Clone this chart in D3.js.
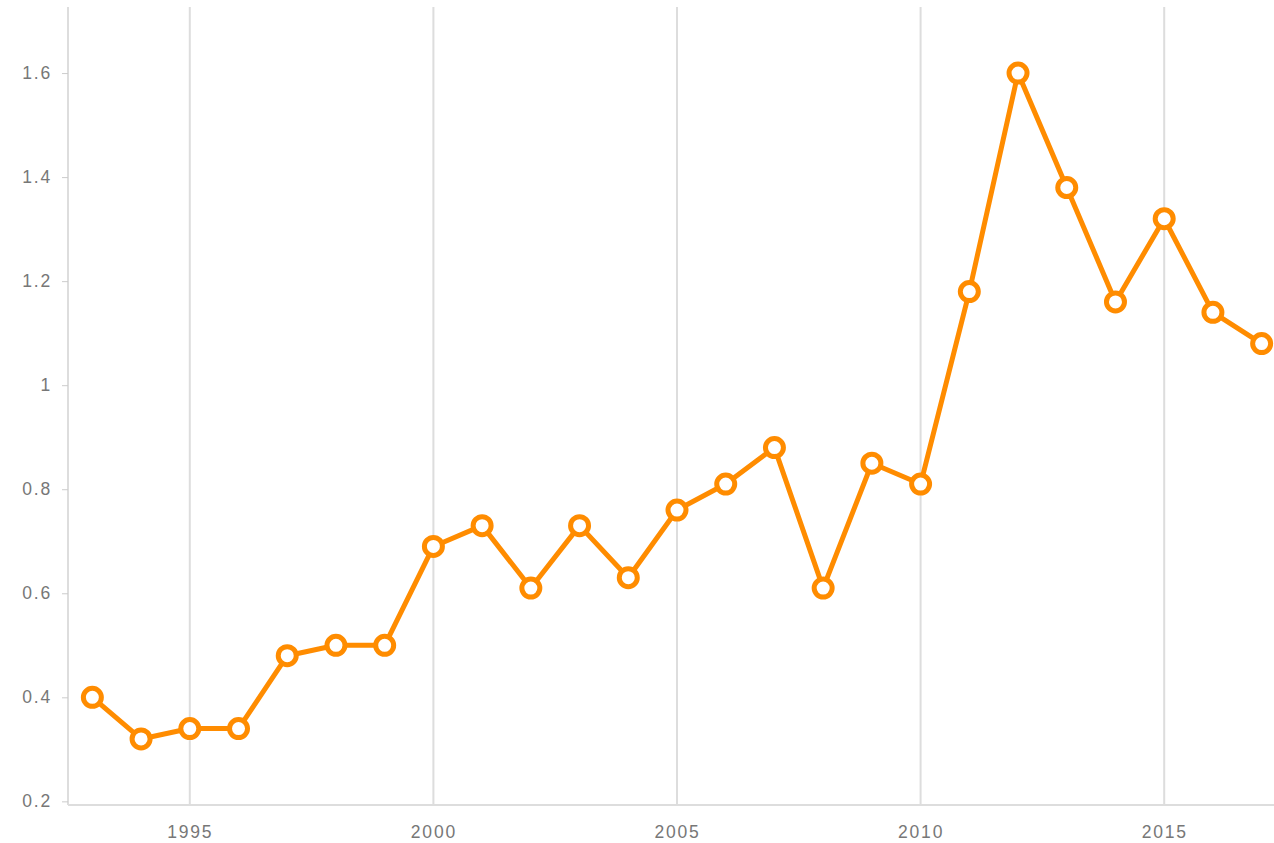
<!DOCTYPE html>
<html>
<head>
<meta charset="utf-8">
<script src="https://cdn.jsdelivr.net/npm/d3@7"></script>
<style>
  body { margin: 0; background: #fff; overflow: hidden; }
  svg { display: block; font-family: "Liberation Sans", Arial, sans-serif; }
</style>
</head>
<body>
<div id="chart"></div>
<script>
// values
const years = [1993, 1994, 1995, 1996, 1997, 1998, 1999, 2000, 2001, 2002, 2003, 2004, 2005,
               2006, 2007, 2008, 2009, 2010, 2011, 2012, 2013, 2014, 2015, 2016, 2017];
const values = [0.40, 0.32, 0.34, 0.34, 0.48, 0.50, 0.50, 0.69, 0.73, 0.61, 0.73, 0.63, 0.76,
                0.81, 0.88, 0.61, 0.85, 0.81, 1.18, 1.60, 1.38, 1.16, 1.32, 1.14, 1.08];
const xTicks = [1995, 2000, 2005, 2010, 2015];
const yTicks = [0.2, 0.4, 0.6, 0.8, 1, 1.2, 1.4, 1.6];

const width = 1274, height = 843;
const plotLeft = 68, plotTop = 7, plotBottom = 805;

const data = years.map((y, i) => ({ year: y, value: values[i] }));

const x = d3.scaleLinear().domain([1992.5, 2017.5]).range([plotLeft, 1286]);
const y = d3.scaleLinear().domain([0.193, 1.727]).range([plotBottom, plotTop]);

const svg = d3.select("#chart").append("svg")
    .attr("width", width)
    .attr("height", height);

// vertical grid lines
svg.append("g")
    .selectAll("line")
    .data(xTicks)
    .join("line")
    .attr("x1", d => x(d)).attr("x2", d => x(d))
    .attr("y1", plotTop).attr("y2", plotBottom)
    .attr("stroke", "#ddd")
    .attr("stroke-width", 2);

// x axis
const xAxis = svg.append("g")
    .attr("transform", "translate(0," + plotBottom + ")")
    .call(d3.axisBottom(x).tickValues(xTicks).tickFormat(d3.format("d")).tickSize(0).tickPadding(21));
xAxis.select(".domain").attr("stroke", "#ddd").attr("stroke-width", 2)
    .attr("d", "M" + plotLeft + ",0H" + width);
xAxis.selectAll("text").attr("fill", "#777")
    .style("font-size", "17.5px").style("letter-spacing", "1.8px");

// y axis
const yAxis = svg.append("g")
    .attr("transform", "translate(" + plotLeft + ",0)")
    .call(d3.axisLeft(y).tickValues(yTicks).tickFormat(d => d3.format("")(d)).tickSize(6).tickPadding(10));
yAxis.select(".domain").attr("stroke", "#ddd").attr("stroke-width", 2)
    .attr("d", "M0," + plotTop + "V" + plotBottom);
yAxis.selectAll(".tick line").attr("stroke", "#ccc");
yAxis.selectAll("text").attr("fill", "#777")
    .style("font-size", "17.5px").style("letter-spacing", "1.8px");

// line
const line = d3.line().x(d => x(d.year)).y(d => y(d.value));
svg.append("path")
    .datum(data)
    .attr("fill", "none")
    .attr("stroke", "#ff8c00")
    .attr("stroke-width", 5)
    .attr("stroke-linejoin", "round")
    .attr("d", line);

// points
svg.append("g")
    .selectAll("circle")
    .data(data)
    .join("circle")
    .attr("cx", d => x(d.year))
    .attr("cy", d => y(d.value))
    .attr("r", 9)
    .attr("fill", "#fff")
    .attr("stroke", "#ff8c00")
    .attr("stroke-width", 5);
</script>
</body>
</html>
